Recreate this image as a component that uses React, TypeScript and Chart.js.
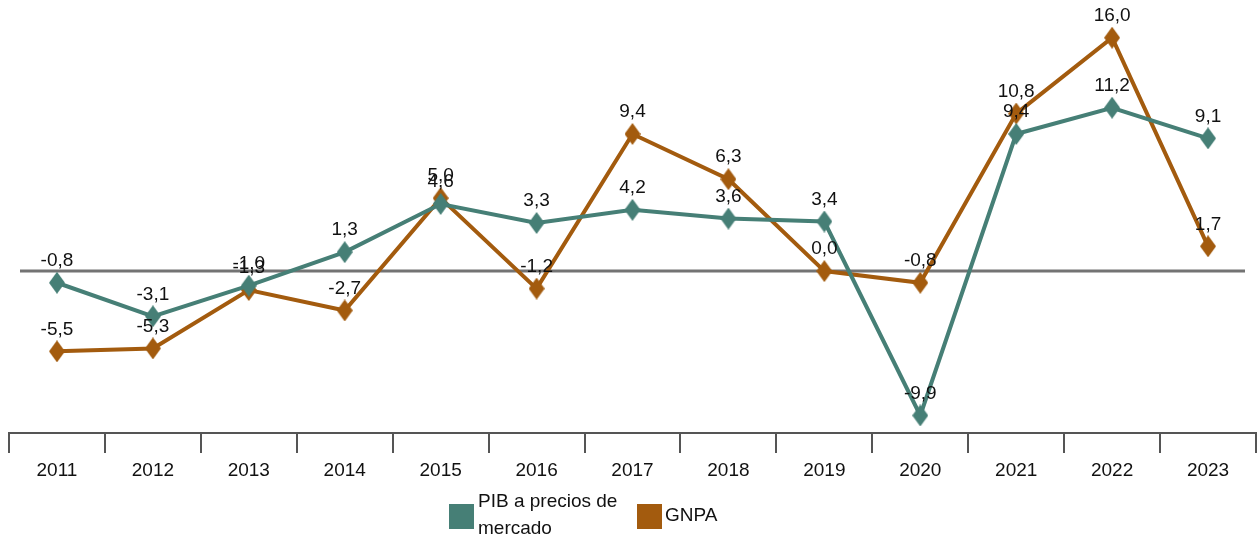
import React, { useEffect, useRef } from "react";
import { Chart, registerables } from "chart.js";

Chart.register(...registerables);

const years = ["2011", "2012", "2013", "2014", "2015", "2016", "2017", "2018", "2019", "2020", "2021", "2022", "2023"];
const pibValues = [-0.8, -3.1, -1.0, 1.3, 4.6, 3.3, 4.2, 3.6, 3.4, -9.9, 9.4, 11.2, 9.1];
const gnpaValues = [-5.5, -5.3, -1.3, -2.7, 5.0, -1.2, 9.4, 6.3, 0.0, -0.8, 10.8, 16.0, 1.7];
const seriesNames = ["PIB a precios de mercado", "GNPA"];
const legendLines = [["PIB a precios de", "mercado"], ["GNPA"]];

const TEAL = "#467f76";
const ORANGE = "#a35b0e";
const FONT = '"Liberation Sans", Arial, sans-serif';
const FS = 19;

function diamond(color: string): HTMLCanvasElement {
  const c = document.createElement("canvas");
  const w = 16, h = 22;
  c.width = w;
  c.height = h;
  const ctx = c.getContext("2d")!;
  ctx.fillStyle = color;
  ctx.beginPath();
  ctx.moveTo(w / 2, 0);
  ctx.lineTo(w, h / 2);
  ctx.lineTo(w / 2, h);
  ctx.lineTo(0, h / 2);
  ctx.closePath();
  ctx.fill();
  return c;
}

const fmt = (v: number) => v.toFixed(1).replace(".", ",");

export default function App() {
  const ref = useRef<HTMLCanvasElement>(null);
  useEffect(() => {
    const canvas = ref.current!;
    const zeroLine = {
      id: "zeroLine",
      beforeDatasetsDraw(chart: any) {
        const y = chart.scales.y.getPixelForValue(0);
        const ctx = chart.ctx;
        ctx.save();
        ctx.strokeStyle = "rgba(90,90,90,0.85)";
        ctx.lineWidth = 3;
        ctx.beginPath();
        ctx.moveTo(20, y);
        ctx.lineTo(1245, y);
        ctx.stroke();
        ctx.restore();
      },
    };
    const valueLabels = {
      id: "valueLabels",
      afterDatasetsDraw(chart: any) {
        const ctx = chart.ctx;
        ctx.save();
        ctx.font = `${FS}px ${FONT}`;
        ctx.fillStyle = "#111";
        ctx.textAlign = "center";
        ctx.textBaseline = "middle";
        chart.data.datasets.forEach((ds: any, i: number) => {
          const meta = chart.getDatasetMeta(i);
          meta.data.forEach((pt: any, j: number) => {
            ctx.fillText(fmt(ds.data[j]), pt.x, pt.y - 22);
          });
        });
        ctx.restore();
      },
    };
    const legend = {
      id: "customLegend",
      afterDraw(chart: any) {
        const ctx = chart.ctx;
        ctx.save();
        ctx.font = `${FS}px ${FONT}`;
        ctx.textBaseline = "middle";
        ctx.textAlign = "left";
        ctx.fillStyle = TEAL;
        ctx.fillRect(449, 504, 25, 25);
        ctx.fillStyle = ORANGE;
        ctx.fillRect(637, 504, 25, 25);
        ctx.fillStyle = "#111";
        ctx.fillText(legendLines[0][0], 478, 502);
        ctx.fillText(legendLines[0][1], 478, 529);
        ctx.fillText(legendLines[1][0], 665, 516);
        ctx.restore();
      },
    };
    const chart = new Chart(canvas, {
      type: "line",
      data: {
        labels: years,
        datasets: [
          {
            label: seriesNames[0],
            data: pibValues,
            borderColor: TEAL,
            backgroundColor: TEAL,
            borderWidth: 4,
            pointStyle: diamond(TEAL) as any,
            pointRadius: 10,
            tension: 0,
            clip: false as any,
          },
          {
            label: seriesNames[1],
            data: gnpaValues,
            borderColor: ORANGE,
            backgroundColor: ORANGE,
            borderWidth: 4,
            pointStyle: diamond(ORANGE) as any,
            pointRadius: 10,
            tension: 0,
            clip: false as any,
          },
        ],
      },
      options: {
        animation: false,
        responsive: false,
        layout: { autoPadding: false, padding: { left: 9, right: 1, top: 10, bottom: 0 } },
        plugins: { legend: { display: false }, tooltip: { enabled: false } },
        scales: {
          x: {
            offset: true,
            afterFit: (scale: any) => {
              scale.height = 108;
              scale.paddingLeft = 0;
              scale.paddingRight = 0;
            },
            grid: {
              offset: true,
              drawOnChartArea: false,
              drawTicks: true,
              tickLength: 20,
              color: "#555",
              lineWidth: 2,
            },
            border: { display: true, color: "#555", width: 2 },
            ticks: { color: "#111", font: { size: FS, family: FONT }, padding: 6, maxRotation: 0 },
          },
          y: {
            display: false,
            min: -11.1,
            max: 17.9,
          },
        },
      },
      plugins: [zeroLine, valueLabels, legend],
    });
    return () => chart.destroy();
  }, []);
  return (
    <div style={{ position: "fixed", left: 0, top: 0, width: 1257, height: 541, background: "#fff" }}>
      <canvas ref={ref} width={1257} height={541} style={{ display: "block" }} />
    </div>
  );
}
